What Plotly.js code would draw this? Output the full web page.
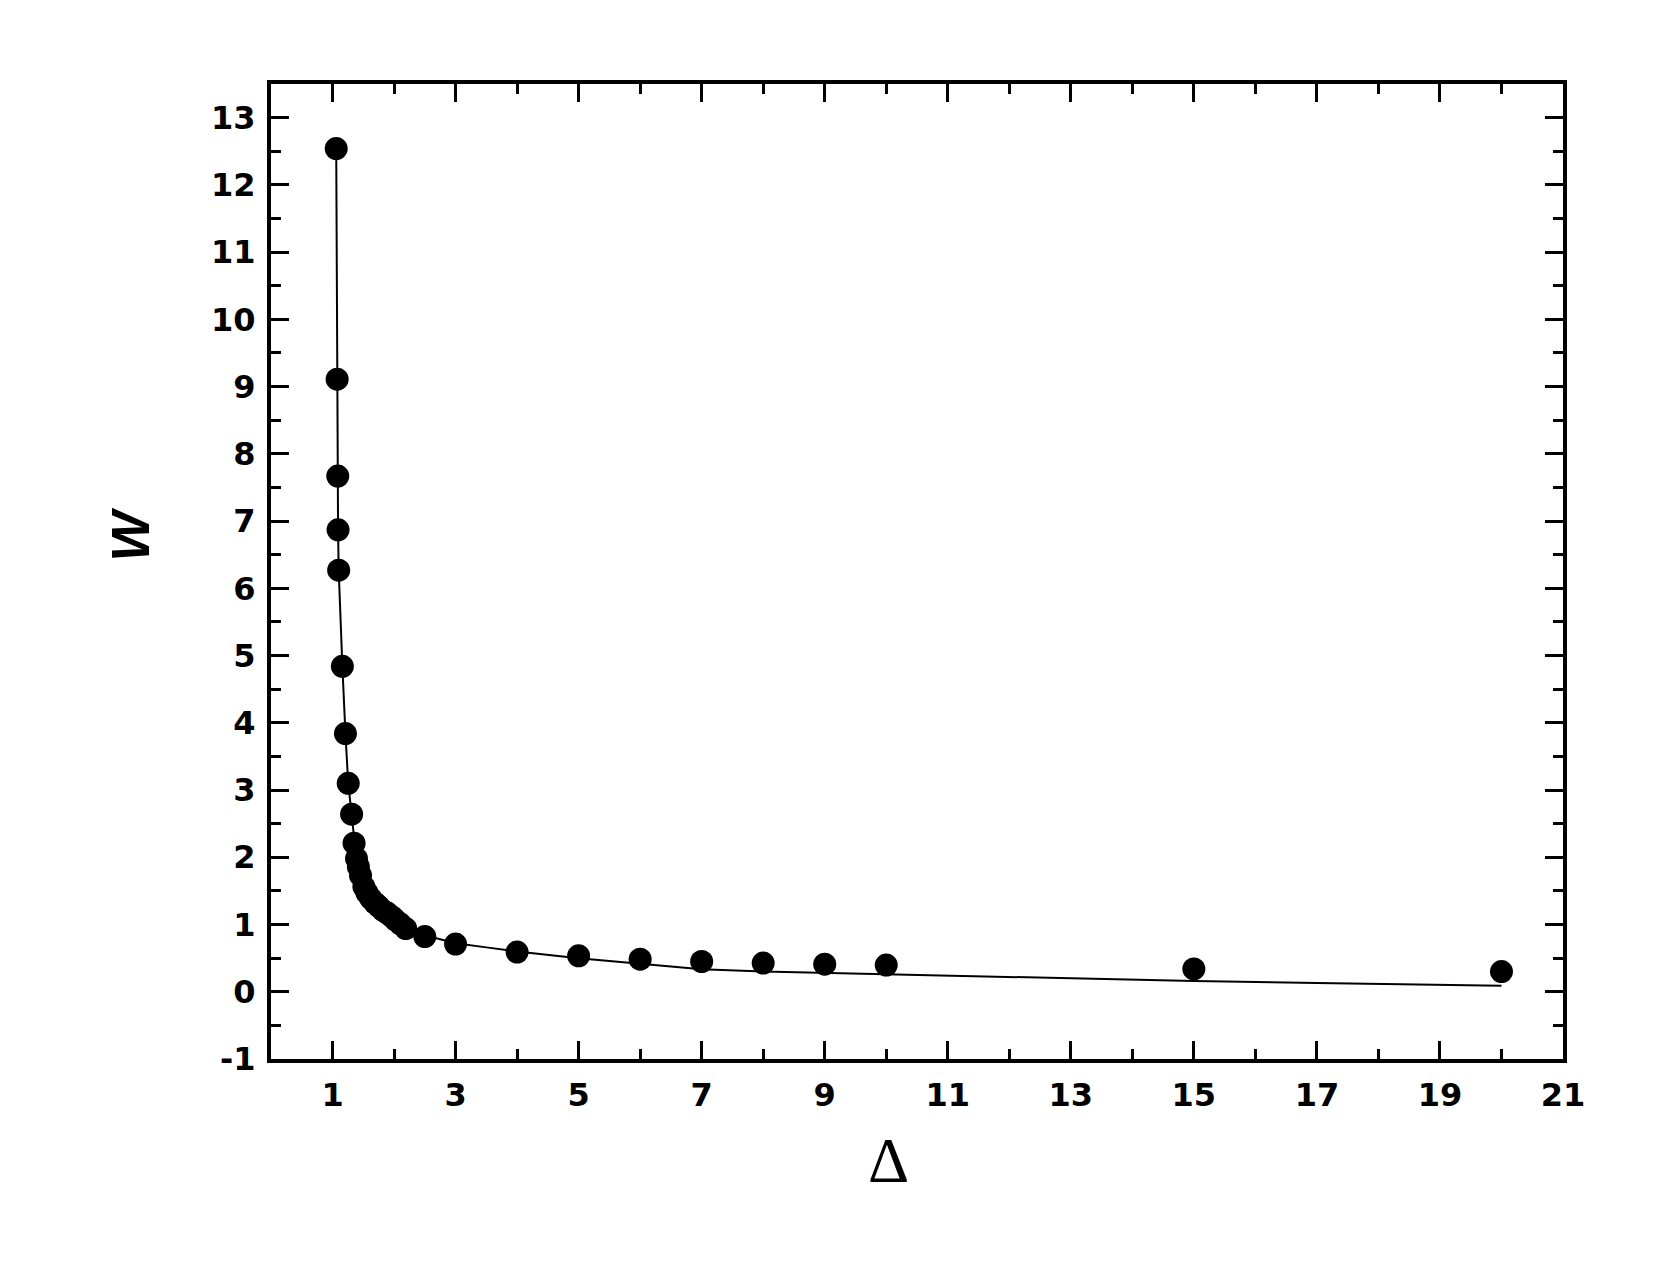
<!DOCTYPE html>
<html>
<head>
<meta charset="utf-8">
<script src="https://cdn.plot.ly/plotly-3.0.1.min.js"></script>
<style>
  html, body { margin: 0; padding: 0; background: #fff; }
  #chart { width: 1669px; height: 1281px; }
</style>
</head>
<body>
<div id="chart"></div>
<script>
// Measured points (Delta, W)
const deltaPts = [1.06, 1.075, 1.085, 1.09, 1.10, 1.16, 1.21, 1.255, 1.31, 1.35, 1.39, 1.42, 1.455, 1.51, 1.56, 1.62, 1.69, 1.75, 1.82, 1.89, 1.96, 2.02, 2.1, 2.19, 2.5, 3, 4, 5, 6, 7, 8, 9, 10, 15, 20];
const wPts = [12.54, 9.11, 7.67, 6.87, 6.27, 4.84, 3.84, 3.10, 2.64, 2.21, 1.98, 1.86, 1.73, 1.56, 1.47, 1.39, 1.32, 1.27, 1.21, 1.17, 1.12, 1.07, 1.01, 0.94, 0.82, 0.71, 0.59, 0.535, 0.485, 0.45, 0.426, 0.41, 0.397, 0.34, 0.30];

// Fitted curve
const deltaFit = [1.06, 1.075, 1.085, 1.09, 1.10, 1.13, 1.16, 1.21, 1.255, 1.31, 1.35, 1.4, 1.5, 1.6, 1.8, 2.0, 2.2, 2.5, 3, 3.5, 4, 5, 6, 7, 8, 9, 10, 12, 15, 17, 20];
const wFit = [12.54, 9.11, 7.67, 6.87, 6.27, 5.4, 4.84, 3.84, 3.10, 2.64, 2.3, 2.0, 1.6, 1.4, 1.17, 1.05, 0.95, 0.84, 0.72, 0.66, 0.60, 0.50, 0.415, 0.335, 0.30, 0.28, 0.25, 0.21, 0.16, 0.13, 0.09];

// Tick labels
const xTickVals = [1, 3, 5, 7, 9, 11, 13, 15, 17, 19, 21];
const xTickText = ['1', '3', '5', '7', '9', '11', '13', '15', '17', '19', '21'];
const yTickVals = [-1, 0, 1, 2, 3, 4, 5, 6, 7, 8, 9, 10, 11, 12, 13];
const yTickText = ['-1', '0', '1', '2', '3', '4', '5', '6', '7', '8', '9', '10', '11', '12', '13'];

const tickFont = { family: 'DejaVu Sans, Verdana, sans-serif', size: 32, color: '#000', weight: 'bold' };

const traces = [
  { x: deltaFit, y: wFit, type: 'scatter', mode: 'lines', line: { color: '#000', width: 2 }, hoverinfo: 'skip' },
  { x: deltaPts, y: wPts, type: 'scatter', mode: 'markers', marker: { color: '#000', size: 23, line: { width: 0 } } }
];

// Origin-style boxed axes with inward ticks on all four sides
const axisCommon = {
  showgrid: false,
  zeroline: false,
  showline: true,
  linecolor: '#000',
  linewidth: 4,
  mirror: 'allticks',
  ticks: 'inside',
  ticklen: 18,
  tickwidth: 3,
  tickcolor: '#000',
  tickfont: tickFont,
  tickmode: 'array',
  ticklabelstandoff: 5
};

const layout = {
  width: 1669,
  height: 1281,
  margin: { l: 271, r: 106, t: 84, b: 222 },
  paper_bgcolor: '#fff',
  plot_bgcolor: '#fff',
  showlegend: false,
  xaxis: Object.assign({}, axisCommon, {
    range: [0, 21],
    tickvals: xTickVals,
    ticktext: xTickText,
    minor: { tick0: 0, dtick: 1, ticks: 'inside', ticklen: 10, tickwidth: 3, tickcolor: '#000' }
  }),
  yaxis: Object.assign({}, axisCommon, {
    range: [-1, 13.5],
    tickvals: yTickVals,
    ticktext: yTickText,
    minor: { tick0: -1, dtick: 0.5, ticks: 'inside', ticklen: 10, tickwidth: 3, tickcolor: '#000' }
  }),
  annotations: [
    {
      text: 'W', xref: 'paper', yref: 'paper', x: -0.109, y: 0.538,
      xanchor: 'center', yanchor: 'middle', textangle: -90, showarrow: false,
      font: { family: 'Liberation Sans, Arial, sans-serif', size: 53, color: '#000', weight: 'bold', style: 'italic' }
    },
    {
      text: 'Δ', xref: 'paper', yref: 'paper', x: 0.478, y: -0.1036,
      xanchor: 'center', yanchor: 'middle', showarrow: false,
      font: { family: 'Liberation Serif, Times New Roman, serif', size: 64, color: '#000' }
    }
  ]
};

Plotly.newPlot('chart', traces, layout, { displayModeBar: false, staticPlot: true });
</script>
</body>
</html>
